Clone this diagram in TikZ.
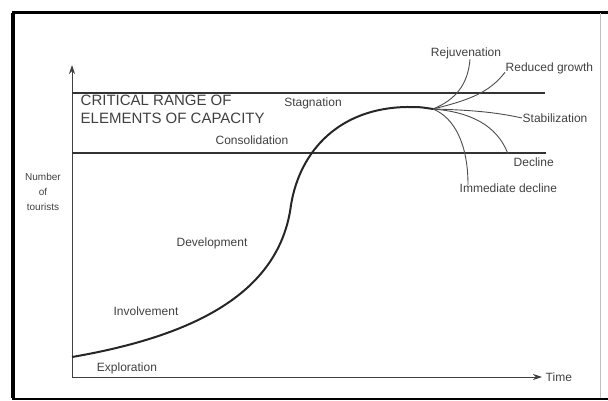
\documentclass[tikz,border=0pt]{standalone}
\usepackage{fontspec}
\setmainfont{Liberation Sans}
\usetikzlibrary{arrows.meta}

\begin{document}
\begin{tikzpicture}[x=1pt, y=-1pt,
    every node/.style={inner sep=0.5pt, text=black!75},
    lbl/.style={font=\fontsize{12}{14}\selectfont},
    guide/.style={draw=black!80, line width=1.1pt},
    branch/.style={draw=black!70, line width=0.9pt},
    axis/.style={draw=black!75, line width=1pt, -{Stealth[length=9pt,width=6pt]}}]
  \useasboundingbox (0,0) rectangle (608,401);

  % Frame
  \draw[line width=4pt] (13,398) -- (13,13);
  \draw[line width=3pt] (11.5,13) -- (608,13);
  \draw[line width=2pt] (11.5,398.5) -- (608,398.5);
  \draw[black!25, line width=0.8pt] (600,13) -- (600,398);

  % Axes
  \coordinate (origin) at (72,377);
  \coordinate (ytip) at (72,65);
  \coordinate (xtip) at (542,377);
  \draw[axis] (origin) -- (ytip);
  \draw[axis] (origin) -- (xtip);
  \node[lbl, anchor=west] (time) at (545,377) {Time};
  \node[lbl, align=center, font=\fontsize{10}{15}\selectfont] (ylab) at (43,192)
    {Number\\of\\tourists};

  % Critical range
  \coordinate (hiL) at (72,93);
  \coordinate (hiR) at (545,93);
  \coordinate (loL) at (72,153);
  \coordinate (loR) at (546,153);
  \draw[guide] (hiL) -- (hiR);
  \draw[guide] (loL) -- (loR);
  \node[anchor=north west, align=left, font=\fontsize{15}{18}\selectfont] (crit) at (80,94)
    {CRITICAL RANGE OF\\ELEMENTS OF CAPACITY};

  % Stage labels
  \foreach \name/\txt/\x/\y in {
      expl/Exploration/127/368,
      invol/Involvement/146/311,
      devel/Development/212/243,
      consol/Consolidation/252/140,
      stag/Stagnation/313/103} {
    \node[lbl] (\name) at (\x,\y) {\txt};
  }

  % Life cycle curve
  \coordinate (start) at (72,357);
  \coordinate (bend) at (291,205);
  \coordinate (peak) at (407,107);
  \coordinate (bp) at (433,109);
  \draw[black!85, line width=2pt] (start) .. controls (200,335) and (280,290) .. (bend)
    .. controls (300,150) and (340,108) .. (peak) .. controls (420,107) .. (bp);

  % Branch labels
  \node[lbl] (rejuv) at (466,53) {Rejuvenation};
  \node[lbl, anchor=west] (redgr) at (505,68) {Reduced growth};
  \node[lbl, anchor=west] (stab) at (522,118) {Stabilization};
  \node[lbl, anchor=west] (decl) at (513,162) {Decline};
  \node[lbl, anchor=west] (imdecl) at (459,188) {Immediate decline};

  % Branches
  \draw[branch] (bp) .. controls (455,100) and (468,85) .. ([xshift=4pt]rejuv.south);
  \draw[branch] (bp) .. controls (470,100) and (490,92) .. ([yshift=2pt]redgr.south west);
  \draw[branch] (bp) .. controls (470,110) and (495,112) .. (stab.west);
  \draw[branch] (bp) .. controls (470,112) and (497,125) .. ([xshift=-5pt,yshift=3pt]decl.north west);
  \draw[branch] (bp) .. controls (455,118) and (468,145) .. ([xshift=9pt,yshift=-2pt]imdecl.north west);
\end{tikzpicture}
\end{document}
